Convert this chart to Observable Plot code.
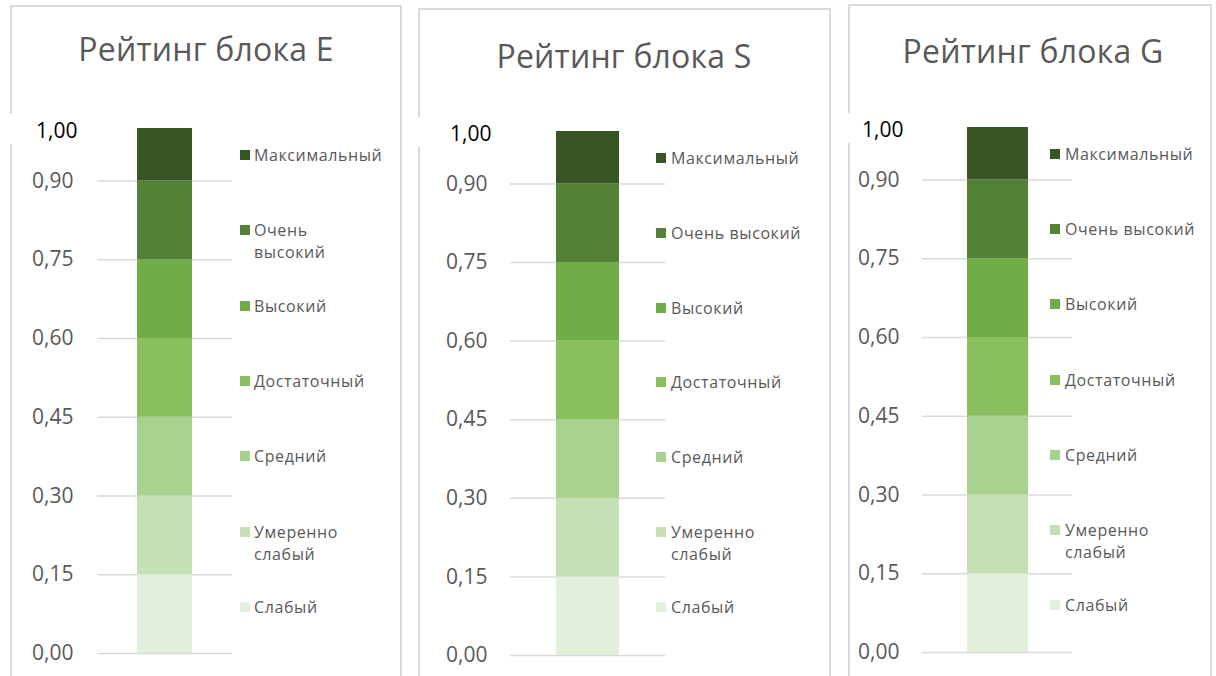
<!DOCTYPE html>
<html><head><meta charset="utf-8">
<script src="https://cdn.jsdelivr.net/npm/d3@7"></script>
<script src="https://cdn.jsdelivr.net/npm/@observablehq/plot@0.6"></script>
<style>
body{margin:0;background:#fff;font-family:"Open Sans",sans-serif;}
#root{position:relative;width:1216px;height:676px;overflow:hidden;background:#fff;}
.panel{position:absolute;border:2px solid #d9d9d9;box-sizing:border-box;}
.patch{position:absolute;background:#fff;}
.title{position:absolute;transform:translate(-50%,-50%);font-size:32px;color:#595959;white-space:nowrap;letter-spacing:0.2px;}
.leg{position:absolute;font-size:16px;color:#595959;line-height:22px;white-space:nowrap;letter-spacing:0.6px;}
.sw{position:absolute;width:10px;height:10px;}
.plotwrap{position:absolute;top:0;}
</style></head><body><div id="root"></div>
<script>
// Data
const blocks = ["E", "S", "G"];
const titles = ["Рейтинг блока E", "Рейтинг блока S", "Рейтинг блока G"];
const levels = ["Слабый", "Умеренно слабый", "Средний", "Достаточный", "Высокий", "Очень высокий", "Максимальный"];
const shares = [0.15, 0.15, 0.15, 0.15, 0.15, 0.15, 0.10];
const colors = ["#e2efda", "#c5e0b4", "#a9d18e", "#8abf60", "#70ad47", "#538135", "#385623"];
const yTicks = [0, 0.15, 0.30, 0.45, 0.60, 0.75, 0.90];
const topTick = [1.00];

// Layout (page pixel positions)
const layout = [
  {box:{l:10,t:5,r:402}, title:{x:206,y:48}, gridL:97, gridR:232, y0:653, y1:128, labR:73,
   sq:240, tx:254, legY:155, step:75.3, wrap:["Очень высокий","Умеренно слабый"]},
  {box:{l:418,t:8,r:831}, title:{x:624,y:55}, gridL:510, gridR:665, y0:655, y1:131, labR:487,
   sq:656, tx:671, legY:158, step:74.8, wrap:["Умеренно слабый"]},
  {box:{l:848,t:4,r:1212}, title:{x:1033,y:50}, gridL:922, gridR:1072, y0:652, y1:127, labR:899,
   sq:1050, tx:1065, legY:154, step:75.2, wrap:["Умеренно слабый"]}
];

const fmt = d => d.toFixed(2).replace(".", ",");
const root = document.getElementById("root");

blocks.forEach((block, bi) => {
  const L = layout[bi];
  const rows = levels.map((lv, i) => ({block, level: lv, value: shares[i]}));

  const panel = document.createElement("div");
  panel.className = "panel";
  Object.assign(panel.style, {left: L.box.l + "px", top: L.box.t + "px", width: (L.box.r - L.box.l) + "px", height: "720px"});
  root.appendChild(panel);

  const patch = document.createElement("div");
  patch.className = "patch";
  Object.assign(patch.style, {left: (L.box.l - 4) + "px", top: (L.y1 - 14) + "px", width: (L.labR - L.box.l + 12) + "px", height: "30px"});
  root.appendChild(patch);

  const t = document.createElement("div");
  t.className = "title";
  t.textContent = titles[bi];
  Object.assign(t.style, {left: L.title.x + "px", top: L.title.y + "px"});
  root.appendChild(t);

  const svgLeft = L.box.l + 2;
  const marginRight = 10;
  const chart = Plot.plot({
    width: L.gridR - svgLeft + marginRight,
    height: 676,
    marginLeft: L.gridL - svgLeft,
    marginRight,
    marginTop: L.y1,
    marginBottom: 676 - L.y0,
    style: {background: "transparent", color: "#595959", fontFamily: "Open Sans, sans-serif"},
    x: {type: "band", domain: [block], padding: 0.42, axis: null},
    y: {domain: [0, 1]},
    color: {domain: levels, range: colors},
    marks: [
      Plot.ruleY(yTicks, {stroke: "#d9d9d9", strokeWidth: 1.5}),
      Plot.barY(rows, {x: "block", y: "value", fill: "level"}),
      Plot.axisY(yTicks, {tickSize: 0, tickPadding: L.gridL - L.labR, tickFormat: fmt, fontSize: 21, label: null}),
      Plot.text(topTick, {y: d => d, text: fmt, frameAnchor: "left", textAnchor: "end",
        dx: -(L.gridL - L.labR) + 4, dy: 3, fill: "#000", fontSize: 21})
    ]
  });
  const wrapDiv = document.createElement("div");
  wrapDiv.className = "plotwrap";
  wrapDiv.style.left = svgLeft + "px";
  wrapDiv.appendChild(chart);
  root.appendChild(wrapDiv);

  levels.slice().reverse().forEach((lv, i) => {
    const cy = L.legY + i * L.step;
    const ci = levels.indexOf(lv);
    const sw = document.createElement("div");
    sw.className = "sw";
    Object.assign(sw.style, {left: L.sq + "px", top: (cy - 5) + "px", background: colors[ci]});
    root.appendChild(sw);
    const tx = document.createElement("div");
    tx.className = "leg";
    tx.innerHTML = L.wrap.includes(lv) ? lv.split(" ").join("<br>") : lv;
    Object.assign(tx.style, {left: L.tx + "px", top: (cy - 11) + "px"});
    root.appendChild(tx);
  });
});
</script></body></html>
